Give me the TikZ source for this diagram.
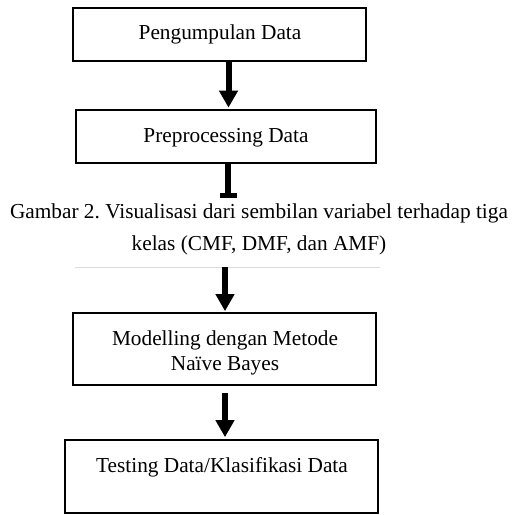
\documentclass[tikz,border=0pt]{standalone}
\usepackage{fontspec}
\setmainfont{Liberation Serif}
\usetikzlibrary{arrows.meta}
\frenchspacing
\tikzset{
  boxnode/.style={draw=black, line width=1.7pt, inner sep=0pt, rectangle},
  lbl/.style={anchor=base, inner sep=0pt, font=\fontsize{21.3}{25}\selectfont},
  flowarrow/.style={line width=6pt, -{Triangle[width=18pt,length=17pt]}},
}
\begin{document}
\begin{tikzpicture}[x=1pt,y=-1pt]
\useasboundingbox (0,0) rectangle (521,514);
% boxes
\node[boxnode, minimum width=293pt, minimum height=53pt] (b1) at (219.5,34.5) {};
\node[boxnode, minimum width=300pt, minimum height=53pt] (b2) at (226,136.5) {};
\node[boxnode, minimum width=303pt, minimum height=72pt] (b3) at (224.5,349) {};
\node[boxnode, minimum width=313pt, minimum height=73pt] (b4) at (221.5,476.5) {};
% labels
\node[lbl] (t1) at (220,39) {Pengumpulan Data};
\node[lbl] (t2) at (226,142) {Preprocessing Data};
\node[lbl] (t3a) at (225,345) {Modelling dengan Metode};
\node[lbl] (t3b) at (225,370) {Naïve Bayes};
\node[lbl] (t4) at (222,472) {Testing Data/Klasifikasi Data};
\node[lbl] (cap1) at (259,218) {Gambar 2. Visualisasi dari sembilan variabel terhadap tiga};
\node[lbl] (cap2) at (259,250) {kelas (CMF, DMF, dan AMF)};
% thin grey rule
\coordinate (ruleL) at (75,267);
\coordinate (ruleR) at (380,267);
\draw[draw=black!14, line width=1pt] (ruleL) -- (ruleR);
% connectors
\draw[flowarrow, shorten >=1.5pt] ([xshift=9pt]b1.south) -- ([xshift=2.5pt]b2.north);
\coordinate (stubend) at (228,198);
\draw[line width=6pt, -{Rectangle[width=17pt,length=5pt]}] ([xshift=2pt]b2.south) -- (stubend);
\coordinate (a3s) at (225,267);
\draw[flowarrow, shorten >=1pt] (a3s) -- ([xshift=0.5pt]b3.north);
\draw[flowarrow, shorten <=7pt, shorten >=2pt] ([xshift=0.5pt]b3.south) -- ([xshift=3.5pt]b4.north);
\end{tikzpicture}
\end{document}
